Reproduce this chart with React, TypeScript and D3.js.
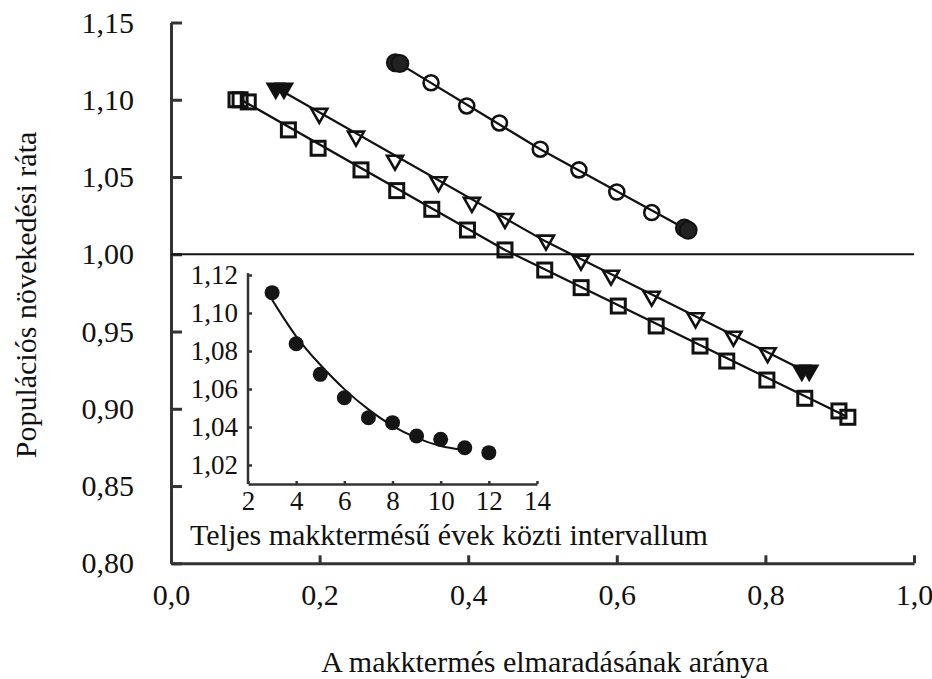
import { useEffect, useRef } from 'react';
import * as d3 from 'd3';

// main chart: proportion of failed acorn years vs population growth rate
const xTicks = [0, 0.2, 0.4, 0.6, 0.8, 1.0];
const yTicks = [0.8, 0.85, 0.9, 0.95, 1.0, 1.05, 1.1, 1.15];

const circleX = [0.35, 0.398, 0.442, 0.497, 0.549, 0.6, 0.647];
const circleY = [1.111, 1.096, 1.085, 1.068, 1.0546, 1.0403, 1.027];
const circleEndX = [0.302, 0.308, 0.691, 0.696];
const circleEndY = [1.124, 1.1235, 1.017, 1.0155];
const circleFitX = [0.305, 0.497, 0.694];
const circleFitY = [1.124, 1.068, 1.016];

const triangleX = [0.1996, 0.249, 0.3015, 0.36, 0.405, 0.4495, 0.5047, 0.5518, 0.5922, 0.647, 0.706, 0.757, 0.803];
const triangleY = [1.0902, 1.0755, 1.0599, 1.046, 1.0326, 1.0222, 1.0082, 0.9952, 0.9855, 0.9719, 0.9579, 0.946, 0.9353];
const triangleEndX = [0.141, 0.152, 0.849, 0.859];
const triangleEndY = [1.1065, 1.1065, 0.924, 0.924];
const triangleFitX = [0.147, 0.5047, 0.855];
const triangleFitY = [1.1063, 1.0082, 0.924];

const squareX = [0.0875, 0.093, 0.104, 0.158, 0.198, 0.2557, 0.3038, 0.351, 0.399, 0.4495, 0.503, 0.552, 0.602, 0.653, 0.712, 0.748, 0.802, 0.853, 0.899, 0.911];
const squareY = [1.1, 1.1, 1.0986, 1.0805, 1.0686, 1.0546, 1.0412, 1.0291, 1.0157, 1.0028, 0.9898, 0.9784, 0.9665, 0.9536, 0.9406, 0.9309, 0.9186, 0.9068, 0.8986, 0.8945];
const squareFitX = [0.095, 0.4495, 0.91];
const squareFitY = [1.0998, 1.0028, 0.8949];

// inset: interval between full mast years
const insetXTicks = [2, 4, 6, 8, 10, 12, 14];
const insetYTicks = [1.02, 1.04, 1.06, 1.08, 1.1, 1.12];
const insetX = [3, 4, 5, 6, 7, 8, 9, 10, 11, 12];
const insetY = [1.1107, 1.0838, 1.0677, 1.0554, 1.0449, 1.0423, 1.0353, 1.0335, 1.0291, 1.0265];
const insetFitX = [3, 4, 5, 6, 7, 8, 9, 10, 11];
const insetFitY = [1.107, 1.0867, 1.0726, 1.0595, 1.049, 1.0402, 1.034, 1.0296, 1.0279];

const fmt = (d: number, digits: number) => d.toFixed(digits).replace('.', ',');

export default function App() {
  const svgRef = useRef<SVGSVGElement>(null);

  useEffect(() => {
    if (!svgRef.current) return;
    const svg = d3.select(svgRef.current);
    svg.selectAll('*').remove();

    const font = '"Liberation Serif", "Times New Roman", serif';
    const ink = '#111';
    const axisColor = '#333';

    const x = d3.scaleLinear().domain([0, 1]).range([171, 914]);
    const y = d3.scaleLinear().domain([0.8, 1.15]).range([563.3, 22.5]);

    const styleAxis = (g: d3.Selection<SVGGElement, unknown, null, undefined>, size: number, width: number) => {
      g.attr('font-family', font).attr('font-size', size);
      g.selectAll('path').attr('stroke', axisColor).attr('stroke-width', width);
      g.selectAll('line').attr('stroke', axisColor).attr('stroke-width', width);
      g.selectAll('text').attr('fill', ink);
    };

    // Y axis
    const gy = svg
      .append('g')
      .attr('transform', `translate(${x(0)},0)`)
      .call(
        d3.axisLeft(y).tickValues(yTicks).tickSizeInner(-11).tickSizeOuter(0).tickPadding(37)
          .tickFormat((d) => fmt(+d, 2))
      );
    styleAxis(gy, 30, 3);

    // X axis
    const gx = svg
      .append('g')
      .attr('transform', `translate(0,${y(0.8)})`)
      .call(
        d3.axisBottom(x).tickValues(xTicks).tickSizeInner(-8).tickSizeOuter(0).tickPadding(20)
          .tickFormat((d) => fmt(+d, 1))
      );
    styleAxis(gx, 30, 3);

    // reference line at 1,00
    svg.append('line')
      .attr('x1', x(0)).attr('x2', x(1))
      .attr('y1', y(1)).attr('y2', y(1))
      .attr('stroke', ink).attr('stroke-width', 2.2);

    const line = d3.line<[number, number]>().x((d) => x(d[0])).y((d) => y(d[1]));
    const fits: [number[], number[]][] = [
      [circleFitX, circleFitY],
      [triangleFitX, triangleFitY],
      [squareFitX, squareFitY],
    ];
    fits.forEach(([fx, fy]) => {
      svg.append('path')
        .attr('d', line(fx.map((v, i) => [v, fy[i]] as [number, number])))
        .attr('fill', 'none').attr('stroke', ink).attr('stroke-width', 2.2);
    });

    // markers
    const sq = 14;
    svg.append('g').selectAll('rect')
      .data(squareX.map((v, i) => [v, squareY[i]]))
      .enter().append('rect')
      .attr('x', (d) => x(d[0]) - sq / 2).attr('y', (d) => y(d[1]) - sq / 2)
      .attr('width', sq).attr('height', sq)
      .attr('fill', 'none').attr('stroke', ink).attr('stroke-width', 3);

    const tri = (cx: number, cy: number) => `M${cx - 8},${cy - 6}L${cx + 8},${cy - 6}L${cx},${cy + 8}Z`;
    svg.append('g').selectAll('path')
      .data(triangleX.map((v, i) => [v, triangleY[i]]))
      .enter().append('path')
      .attr('d', (d) => tri(x(d[0]), y(d[1])))
      .attr('fill', 'none').attr('stroke', ink).attr('stroke-width', 2.6).attr('stroke-linejoin', 'miter');
    svg.append('g').selectAll('path')
      .data(triangleEndX.map((v, i) => [v, triangleEndY[i]]))
      .enter().append('path')
      .attr('d', (d) => tri(x(d[0]), y(d[1])))
      .attr('fill', ink).attr('stroke', ink).attr('stroke-width', 2.6);

    svg.append('g').selectAll('circle')
      .data(circleX.map((v, i) => [v, circleY[i]]))
      .enter().append('circle')
      .attr('cx', (d) => x(d[0])).attr('cy', (d) => y(d[1])).attr('r', 7.5)
      .attr('fill', 'none').attr('stroke', ink).attr('stroke-width', 2.6);
    svg.append('g').selectAll('circle')
      .data(circleEndX.map((v, i) => [v, circleEndY[i]]))
      .enter().append('circle')
      .attr('cx', (d) => x(d[0])).attr('cy', (d) => y(d[1])).attr('r', 8.5)
      .attr('fill', '#222').attr('stroke', ink).attr('stroke-width', 2);

    // inset
    const ix = d3.scaleLinear().domain([2, 14]).range([248, 537]);
    const iy = d3.scaleLinear().domain([1.01, 1.12]).range([484, 275]);

    const igy = svg.append('g')
      .attr('transform', `translate(${ix(2)},0)`)
      .call(
        d3.axisLeft(iy).tickValues(insetYTicks).tickSizeInner(-4).tickSizeOuter(0).tickPadding(10)
          .tickFormat((d) => fmt(+d, 2))
      );
    igy.select('.domain').attr('d', `M0,${iy(1.01)}V${iy(1.121)}`);
    styleAxis(igy, 27, 2.5);

    const igx = svg.append('g')
      .attr('transform', `translate(0,${iy(1.01)})`)
      .call(
        d3.axisBottom(ix).tickValues(insetXTicks).tickSizeInner(-3).tickSizeOuter(0).tickPadding(7)
          .tickFormat((d) => `${d}`)
      );
    styleAxis(igx, 27, 2.5);

    const iline = d3.line<[number, number]>().x((d) => ix(d[0])).y((d) => iy(d[1])).curve(d3.curveBasis);
    svg.append('path')
      .attr('d', iline(insetFitX.map((v, i) => [v, insetFitY[i]] as [number, number])))
      .attr('fill', 'none').attr('stroke', ink).attr('stroke-width', 2);

    svg.append('g').selectAll('circle')
      .data(insetX.map((v, i) => [v, insetY[i]]))
      .enter().append('circle')
      .attr('cx', (d) => ix(d[0])).attr('cy', (d) => iy(d[1])).attr('r', 7.5)
      .attr('fill', '#151515');

    // titles
    svg.append('text')
      .attr('x', 190).attr('y', 545)
      .attr('font-family', font).attr('font-size', 30).attr('fill', ink)
      .text('Teljes makktermésű évek közti intervallum');

    svg.append('text')
      .attr('x', 545).attr('y', 672).attr('text-anchor', 'middle')
      .attr('font-family', font).attr('font-size', 30).attr('fill', ink)
      .text('A makktermés elmaradásának aránya');

    svg.append('text')
      .attr('transform', 'translate(36,295) rotate(-90)').attr('text-anchor', 'middle')
      .attr('font-family', font).attr('font-size', 30).attr('fill', ink)
      .text('Populációs növekedési ráta');
  }, []);

  return (
    <svg
      ref={svgRef}
      width={932}
      height={679}
      style={{ position: 'absolute', left: 0, top: 0, background: '#fff' }}
    />
  );
}
